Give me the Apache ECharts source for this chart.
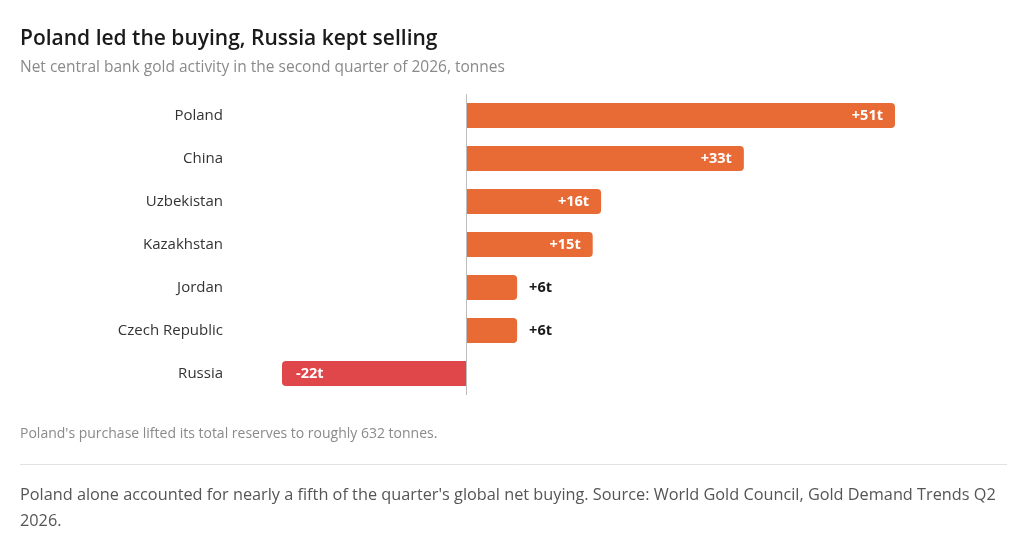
<!DOCTYPE html>
<html lang="en">

<head>
  <meta charset="UTF-8">
  <title>Central bank gold activity Q2 2026</title>
  <script src="https://cdn.jsdelivr.net/npm/echarts@6/dist/echarts.min.js"></script>
</head>

<body style="margin: 0;padding: 0;background: #fff;">
  <div id="main" style="width: 1024px;height: 539px;"></div>
  <script>
    var countries = ['Poland', 'China', 'Uzbekistan', 'Kazakhstan', 'Jordan', 'Czech Republic', 'Russia'];
    var tonnes = [51, 33, 16, 15, 6, 6, -22];

    var FONT = '"Open Sans", "Noto Sans", sans-serif';
    var ORANGE = '#E86A35';
    var RED = '#E0474A';

    // big bars get the label inside, small ones outside
    var barData = tonnes.map(function (v) {
      var item = { value: v, itemStyle: {}, label: {} };
      if (v < 0) {
        item.itemStyle = { color: RED, borderRadius: [4, 0, 0, 4] };
        item.label = { position: 'insideLeft', color: '#fff', distance: 14 };
      } else if (v >= 10) {
        item.itemStyle = { color: ORANGE, borderRadius: [0, 4, 4, 0] };
        item.label = { position: 'insideRight', color: '#fff', distance: 12 };
      } else {
        item.itemStyle = { color: ORANGE, borderRadius: [0, 4, 4, 0] };
        item.label = { position: 'right', color: '#1a1a1a', distance: 12 };
      }
      return item;
    });

    var chartDom = document.getElementById('main');
    var myChart = echarts.init(chartDom);
    var option = {
      backgroundColor: '#fff',
      textStyle: { fontFamily: FONT },
      title: [
        {
          text: 'Poland led the buying, Russia kept selling',
          left: 20, top: 29, padding: 0,
          textStyle: { fontSize: 21, fontWeight: 600, color: '#1a1a1a', fontFamily: FONT }
        },
        {
          text: 'Net central bank gold activity in the second quarter of 2026, tonnes',
          left: 20, top: 60, padding: 0,
          textStyle: { fontSize: 15.5, fontWeight: 'normal', color: '#8a8a8a', fontFamily: FONT }
        },
        {
          text: "Poland's purchase lifted its total reserves to roughly 632 tonnes.",
          left: 20, top: 427, padding: 0,
          textStyle: { fontSize: 14, fontWeight: 'normal', color: '#8a8a8a', fontFamily: FONT }
        },
        {
          text: "Poland alone accounted for nearly a fifth of the quarter's global net buying. Source: World Gold Council, Gold Demand Trends Q2\n2026.",
          left: 20, top: 482, padding: 0,
          textStyle: { fontSize: 16.3, fontWeight: 'normal', color: '#555', lineHeight: 26, fontFamily: FONT }
        }
      ],
      graphic: [
        {
          type: 'line',
          shape: { x1: 20, y1: 464.5, x2: 1007, y2: 464.5 },
          style: { stroke: '#e2e2e2', lineWidth: 1 }
        }
      ],
      grid: { left: 282, right: 129, top: 94, bottom: 144 },
      xAxis: {
        type: 'value',
        min: -22,
        max: 51,
        show: false
      },
      yAxis: {
        type: 'category',
        data: countries,
        inverse: true,
        axisLine: { show: false, onZero: false },
        axisTick: { show: false },
        splitLine: { show: false },
        axisLabel: { margin: 59, fontSize: 15, color: '#333', fontFamily: FONT }
      },
      series: [
        {
          type: 'bar',
          data: barData,
          barWidth: 25,
          label: {
            show: true,
            fontSize: 14.5,
            fontWeight: 'bold',
            fontFamily: FONT,
            formatter: function (p) {
              return (p.value > 0 ? '+' : '') + p.value + 't';
            }
          },
          markLine: {
            silent: true,
            symbol: 'none',
            label: { show: false },
            lineStyle: { color: '#bdbdbd', type: 'solid', width: 1 },
            data: [{ xAxis: 0 }]
          }
        }
      ]
    };

    option && myChart.setOption(option);
  </script>
</body>

</html>
